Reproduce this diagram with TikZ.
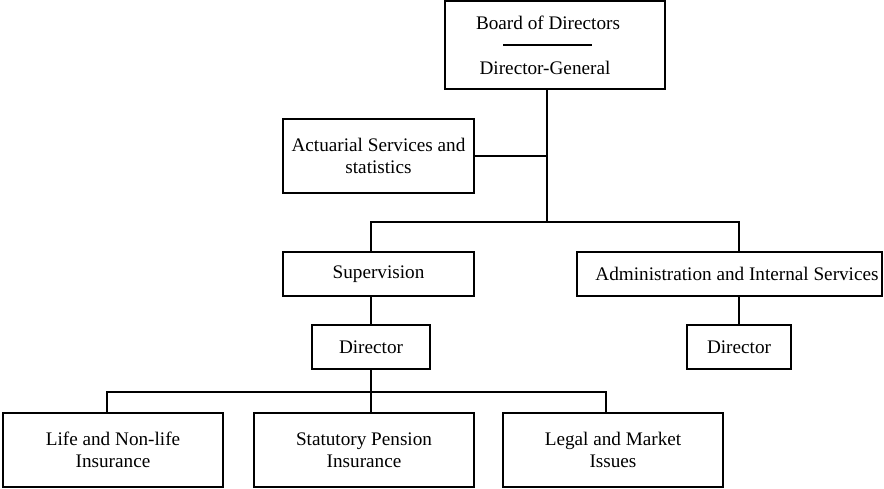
\documentclass[tikz,border=0pt]{standalone}
\usepackage{fontspec}
\setmainfont{Liberation Serif}
\begin{document}
\begin{tikzpicture}[x=1pt,y=-1pt,
  every node/.style={font=\fontsize{19.2}{22.5}\selectfont},
  box/.style={draw, line width=1.5pt, inner sep=0pt, align=center},
  txt/.style={inner sep=0pt, align=center},
  conn/.style={line width=1.5pt}]
\useasboundingbox (0,0) rectangle (884,488);
% boxes
\node[box, minimum width=220pt, minimum height=88pt] (top) at (555,45) {};
\node[txt] (tboard) at (548,23) {Board of Directors};
\node[txt] (tdg) at (545,68) {Director-General};
\coordinate (rl) at (503,45);
\coordinate (rr) at (592,45);
\draw[conn] (rl) -- (rr);
\node[box, minimum width=191pt, minimum height=74pt] (act) at (378.5,156) {Actuarial Services and\\statistics};
\node[box, minimum width=191pt, minimum height=44pt] (sup) at (378.5,274) {Supervision};
\node[box, minimum width=305pt, minimum height=44pt] (adm) at (729.5,274) {};
\node[txt] (tadm) at (737,274) {Administration and Internal Services};
\node[box, minimum width=118pt, minimum height=44pt] (dirL) at (371,347) {Director};
\node[box, minimum width=104pt, minimum height=44pt] (dirR) at (739,347) {Director};
\node[box, minimum width=220pt, minimum height=74pt] (life) at (113,450) {Life and Non-life\\Insurance};
\node[box, minimum width=220pt, minimum height=74pt] (stat) at (364,450) {Statutory Pension\\Insurance};
\node[box, minimum width=220pt, minimum height=74pt] (legal) at (613,450) {Legal and Market\\Issues};
% junctions
\coordinate (j1) at (547,222);
\coordinate (j0) at (547,156);
\coordinate (bL) at (107,392);
\coordinate (bM) at (371,392);
\coordinate (bR) at (606,392);
% connectors
\draw[conn] (top.south -| j1) -- (j1);
\draw[conn] (act.east) -- (j0);
\draw[conn] (sup.north -| dirL.north) -- (dirL.north |- j1) -- (dirR.north |- j1) -- (adm.north -| dirR.north);
\draw[conn] (sup.south -| dirL.north) -- (dirL.north);
\draw[conn] (adm.south -| dirR.north) -- (dirR.north);
\draw[conn] (dirL.south) -- (stat.north -| dirL.south);
\draw[conn] (bL |- life.north) -- (bL) -- (bR) -- (bR |- legal.north);
\end{tikzpicture}
\end{document}
